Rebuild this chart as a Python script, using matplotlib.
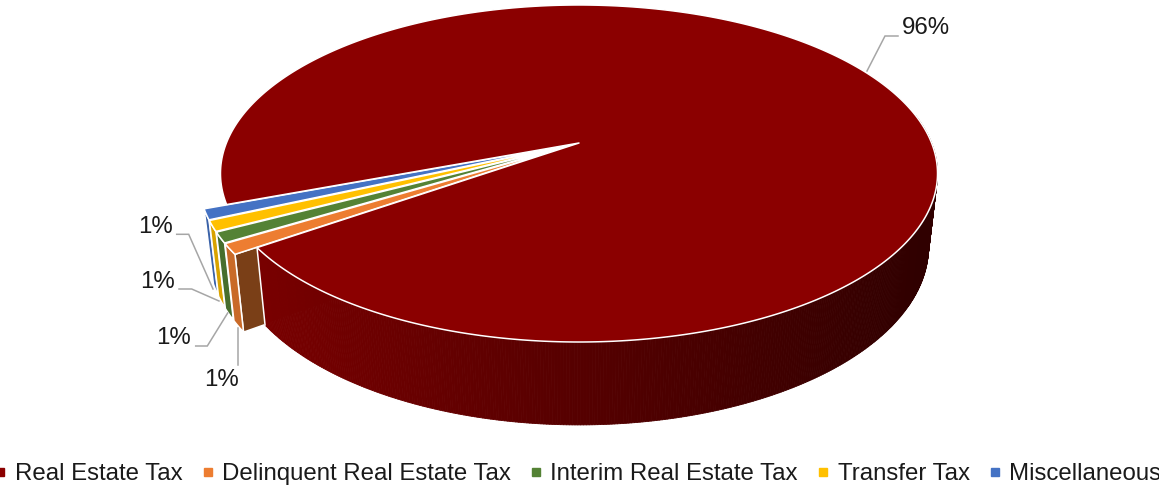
import numpy as np
import matplotlib
matplotlib.use("Agg")
import matplotlib.pyplot as plt
from matplotlib.lines import Line2D
from matplotlib.patches import Polygon
from matplotlib.collections import PolyCollection

# tax revenue shares, percent
categories = ["Real Estate Tax", "Delinquent Real Estate Tax", "Interim Real Estate Tax",
              "Transfer Tax", "Miscellaneous"]
shares = [96, 1, 1, 1, 1]

colors = ["#8B0000", "#ED7D31", "#548235", "#FFC000", "#4472C4"]
rim_colors = [None, "#C96A28", "#476E2D", "#D9A300", "#3A62A8"]
cut_colors = [None, "#7A3F17", "#33501F", "#8C6A00", "#24406F"]

# label anchor and leader line for each slice
label_xy = [(926, 28), (222, 380), (173, 338), (158, 282), (155, 227)]
leaders = [[(867, 71), (885, 36), (898, 36)],
           [(237.7, 365), (237.7, 328)],
           [(195.7, 346), (207.3, 346), (227.7, 313)],
           [(179, 289), (191.7, 289), (219, 301)],
           [(176.7, 234.3), (188.7, 234.3), (213, 289)]]

plt.rcParams["font.family"] = ["Liberation Sans", "DejaVu Sans"]

fig = plt.figure(figsize=(11.59, 4.93), dpi=100)
ax = fig.add_axes([0, 0, 1, 1])
ax.set_xlim(0, 1159)
ax.set_ylim(493, 0)
ax.axis("off")

# perspective projection of the pie disc, top face and bottom face
CX = 579
TOP = dict(s=352.6, p=137.1, q=143, r=-0.181)
BOT = dict(s=343.8, p=133.7, q=214.3, r=-0.181)
START = 159.3
EXPLODE = 0.06


def project(plane, u, v):
    w = 1 + plane["r"] * v
    return np.column_stack([CX + plane["s"] * u / w, (plane["p"] * v + plane["q"]) / w])


def rim(plane, a0, a1, n=200, offset=(0, 0)):
    ang = np.radians(np.linspace(a0, a1, n))
    return project(plane, np.cos(ang) + offset[0], np.sin(ang) + offset[1])


def apex(plane, offset=(0, 0)):
    return project(plane, np.array([offset[0]]), np.array([offset[1]]))


# slice angles, clockwise on screen
edges = START + np.cumsum([0] + [s * 3.6 for s in shares])

# small slices go first, back to front, so the big slice can cover their cut faces
for i in range(len(shares) - 1, 0, -1):
    a0, a1 = edges[i], edges[i + 1]
    mid = np.radians((a0 + a1) / 2)
    off = (EXPLODE * np.cos(mid), EXPLODE * np.sin(mid))
    top_arc = rim(TOP, a0, a1, 20, off)
    bot_arc = rim(BOT, a0, a1, 20, off)
    cut = np.vstack([top_arc[:1], apex(TOP, off), apex(BOT, off), bot_arc[:1]])
    ax.add_patch(Polygon(cut, fc=cut_colors[i], ec="white", lw=1.1, joinstyle="round"))
    wall = np.vstack([top_arc, bot_arc[::-1]])
    ax.add_patch(Polygon(wall, fc=rim_colors[i], ec="white", lw=1.1, joinstyle="round"))
    face = np.vstack([apex(TOP, off), top_arc])
    ax.add_patch(Polygon(face, fc=colors[i], ec="white", lw=1.1, joinstyle="round"))

# outer wall of the big slice, darker towards the right
end = edges[1] - 360
wall_angles = np.linspace(end, -10, 400)
top_pts = rim(TOP, end, -10, 400)
bot_pts = rim(BOT, end, -10, 400)
quads = [np.vstack([top_pts[k], top_pts[k + 1], bot_pts[k + 1], bot_pts[k]]) for k in range(399)]
t = np.clip((top_pts[:-1, 0] - 262) / (925 - 262), 0, 1)
shade = (0x78 + (0x30 - 0x78) * t) / 255
wall_colors = np.column_stack([shade, np.zeros_like(shade), np.zeros_like(shade)])
ax.add_collection(PolyCollection(quads, facecolors=wall_colors, edgecolors=wall_colors, linewidths=0.6))
ax.plot([top_pts[0, 0], bot_pts[0, 0]], [top_pts[0, 1], bot_pts[0, 1]], color="white", lw=1.1)

# top face of the big slice
face = np.vstack([apex(TOP), rim(TOP, edges[0], edges[1], 600)])
ax.add_patch(Polygon(face, fc=colors[0], ec="white", lw=1.1, joinstyle="round"))

# percent labels with leader lines
for share, xy, path in zip(shares, label_xy, leaders):
    xs, ys = zip(*path)
    ax.plot(xs, ys, color="#A6A6A6", lw=1.1, solid_joinstyle="miter")
    ax.text(xy[0], xy[1], f"{share}%", fontsize=17.3, color="#1a1a1a", ha="center", va="center")

handles = [Line2D([], [], ls="none", marker="s", ms=5.4, mfc=c, mec=c) for c in colors]
ax.legend(handles, categories, ncol=5, loc="lower center", bbox_to_anchor=(0.4985, -0.004),
          frameon=False, fontsize=17.3, handlelength=0.5, handletextpad=0.35,
          columnspacing=0.8, labelcolor="#1a1a1a", borderpad=0.2, borderaxespad=0.2)

fig.savefig("out.png", dpi=100)
